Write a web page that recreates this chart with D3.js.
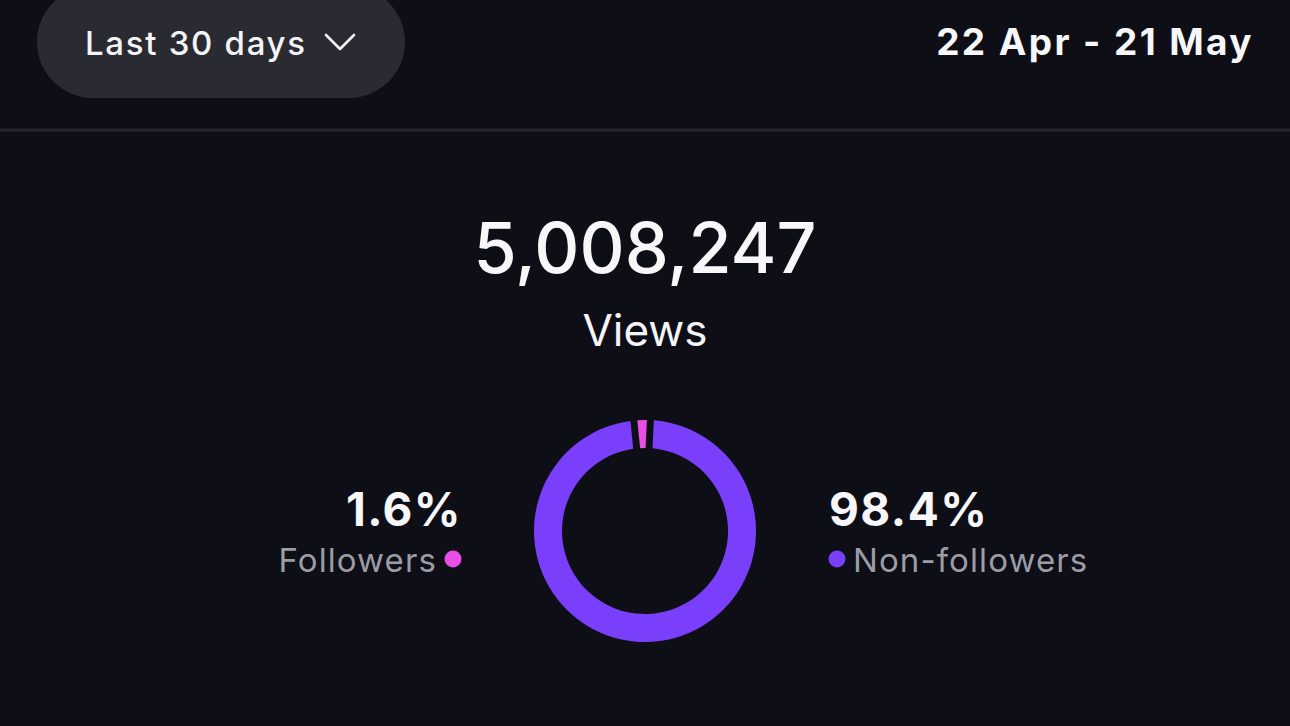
<!DOCTYPE html>
<html>
<head>
<title>views</title>
<style>
    html, body { margin: 0; padding: 0; background: #0e0e16; }
    svg#views { display: block; }
    text { font-family: Inter, "Noto Sans", sans-serif; }
</style>
</head>
<body>
<svg id="views"></svg>
<script src="https://d3js.org/d3.v7.min.js"></script>
<script>
// data
var rangeLabel = "Last 30 days";
var dateLabel = "22 Apr - 21 May";
var totalViews = 5008247;
var totalLabel = "Views";
var categories = ["Followers", "Non-followers"];
var shares = [1.6, 98.4];
var colors = ["#e94ee6", "#7a3ffa"];

var W = 1290, H = 726;
var svg = d3.select("svg#views").attr("width", W).attr("height", H);

svg.append("rect").attr("width", W).attr("height", H).attr("fill", "#0e0e16");

// header
svg.append("rect")
    .attr("x", 37).attr("y", -14)
    .attr("width", 368).attr("height", 112)
    .attr("rx", 56)
    .attr("fill", "#2a2b32");

svg.append("text")
    .attr("x", 85).attr("y", 55)
    .attr("font-size", 33).attr("font-weight", 500)
    .attr("letter-spacing", 1.7)
    .attr("fill", "#f4f4f6")
    .text(rangeLabel);

svg.append("path")
    .attr("d", "M326,35 L340,49 L354,35")
    .attr("fill", "none").attr("stroke", "#f4f4f6")
    .attr("stroke-width", 2.6).attr("stroke-linecap", "round").attr("stroke-linejoin", "round");

svg.append("text")
    .attr("x", 1254).attr("y", 55)
    .attr("text-anchor", "end")
    .attr("font-size", 37).attr("font-weight", 700)
    .attr("letter-spacing", 2.4)
    .attr("fill", "#f7f7f9")
    .text(dateLabel);

svg.append("line")
    .attr("x1", 0).attr("x2", W).attr("y1", 130).attr("y2", 130)
    .attr("stroke", "#24252d").attr("stroke-width", 3);

// total
var cx = 645;
svg.append("text")
    .attr("x", cx).attr("y", 273)
    .attr("text-anchor", "middle")
    .attr("font-size", 70).attr("font-weight", 500)
    .attr("fill", "#f7f7f9")
    .text(d3.format(",")(totalViews));

svg.append("text")
    .attr("x", cx).attr("y", 346)
    .attr("text-anchor", "middle")
    .attr("font-size", 44).attr("font-weight", 400)
    .attr("fill", "#f4f4f6")
    .text(totalLabel);

// donut
var cy = 531;
var pieData = categories.map(function(c, i) { return { name: c, value: shares[i], color: colors[i] }; });
var tau = 2 * Math.PI;
var offset = -tau * shares[0] / 100;
var pie = d3.pie().sort(null).value(function(d) { return d.value; })
    .startAngle(offset).endAngle(tau + offset)
    .padAngle(0.05);
var arc = d3.arc().innerRadius(83).outerRadius(111);

svg.append("g")
    .attr("transform", "translate(" + cx + "," + cy + ")")
    .selectAll("path")
    .data(pie(pieData))
    .enter().append("path")
    .attr("d", arc)
    .attr("fill", function(d) { return d.data.color; });

// labels
var fmt = function(v) { return v.toFixed(1) + "%"; };

svg.append("text")
    .attr("x", 462).attr("y", 526)
    .attr("text-anchor", "end")
    .attr("font-size", 46).attr("font-weight", 700)
    .attr("letter-spacing", 1.4)
    .attr("fill", "#f7f7f9")
    .text(fmt(shares[0]));

svg.append("text")
    .attr("x", 437).attr("y", 572)
    .attr("text-anchor", "end")
    .attr("font-size", 33)
    .attr("letter-spacing", 1.1)
    .attr("fill", "#9c9ca6")
    .text(categories[0]);

svg.append("circle")
    .attr("cx", 453).attr("cy", 559).attr("r", 8.5)
    .attr("fill", colors[0]);

svg.append("text")
    .attr("x", 829).attr("y", 526)
    .attr("font-size", 46).attr("font-weight", 700)
    .attr("letter-spacing", 1.5)
    .attr("fill", "#f7f7f9")
    .text(fmt(shares[1]));

svg.append("circle")
    .attr("cx", 837).attr("cy", 559).attr("r", 8.5)
    .attr("fill", colors[1]);

svg.append("text")
    .attr("x", 853).attr("y", 572)
    .attr("font-size", 33)
    .attr("letter-spacing", 1.1)
    .attr("fill", "#9c9ca6")
    .text(categories[1]);
</script>
</body>
</html>
